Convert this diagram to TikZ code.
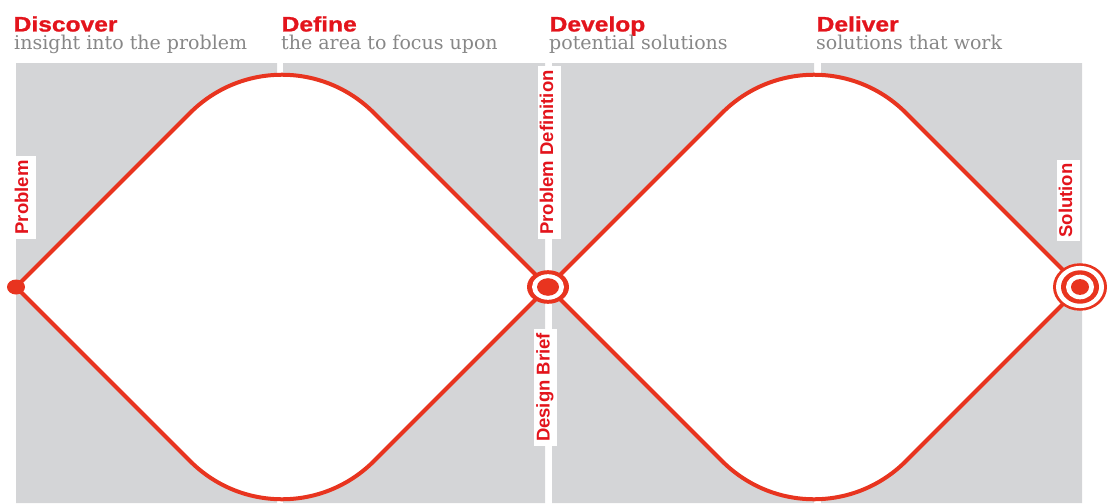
\documentclass[tikz,border=0pt]{standalone}
\usepackage{fontspec}
\usetikzlibrary{calc}
\newfontfamily\headfont[FakeStretch=1.17,FakeBold=1]{Liberation Sans}
\newfontfamily\subfont{DejaVu Serif}
\newfontfamily\tagfont{Liberation Sans}
\definecolor{ddred}{HTML}{E8341F}
\definecolor{ddtext}{HTML}{E3141C}
\definecolor{ddgrey}{HTML}{D4D5D7}
\definecolor{ddsub}{HTML}{878787}
\tikzset{
  phase/.style={anchor=base west,inner sep=0pt,text=ddtext,
    font=\headfont\bfseries\fontsize{21}{21}\selectfont},
  aim/.style={anchor=base west,inner sep=0pt,text=ddsub,
    font=\subfont\fontsize{19}{19}\selectfont},
  tag/.style={rotate=90,anchor=base,fill=white,text=ddtext,
    font=\tagfont\bfseries\fontsize{18.5}{18.5}\selectfont,
    text height=15pt,text depth=7pt,inner xsep=4pt,inner ysep=.5pt},
  redline/.style={draw=ddred,fill=white,line width=4pt}
}
\begin{document}
\begin{tikzpicture}[x=1pt,y=-1pt]
\def\ddiamond#1#2#3#4{% left, top, right, bottom
  \filldraw[redline] (#1) -- ($(#2)!130pt!(#1)$)
    .. controls ($(#2)!58pt!(#1)$) and ($(#2)!58pt!(#3)$) .. ($(#2)!130pt!(#3)$)
    -- (#3) -- ($(#4)!130pt!(#3)$)
    .. controls ($(#4)!58pt!(#3)$) and ($(#4)!58pt!(#1)$) .. ($(#4)!130pt!(#1)$)
    -- cycle;}
\useasboundingbox (0,0) rectangle (1107,503);
% grey panels
\fill[ddgrey] (16,63) rectangle (277,503)
	(283,63) rectangle (545,503)
	(552,63) rectangle (814,503)
	(821,63) rectangle (1082,503);
% corners of the two diamonds
\coordinate (problem) at (16,287);
\coordinate (brief) at (548,287);
\coordinate (solution) at (1080,287);
\coordinate (top1) at (282,21);
\coordinate (bot1) at (282,553);
\coordinate (top2) at (814,21);
\coordinate (bot2) at (814,553);
\ddiamond{problem}{top1}{brief}{bot1}
\ddiamond{brief}{top2}{solution}{bot2}
% headings
\node[phase] (discover) at (13.5,31.5) {Discover};
\node[phase] (define) at (281.5,31.5) {Define};
\node[phase] (develop) at (549.5,31.5) {Develop};
\node[phase] (deliver) at (816.5,31.5) {Deliver};
\node[aim] (discover-aim) at (14,50) {insight into the problem};
\node[aim] (define-aim) at (281,50) {the area to focus upon};
\node[aim] (develop-aim) at (549,50) {potential solutions};
\node[aim] (deliver-aim) at (816,50) {solutions that work};
% labels along the line
\node[tag] (problem-tag) at (28,197.5) {Problem};
\node[tag] (definition-tag) at (553,152.5) {Problem Definition};
\node[tag] (brief-tag) at (549.5,387.5) {Design Brief};
\node[tag] (solution-tag) at (1072,200.5) {Solution};
% dot and targets
\fill[ddred] (problem) ellipse [x radius=9pt,y radius=7.5pt];
\foreach \r/\c in {21/ddred,16/white,11/ddred}
	\fill[\c] (brief) ellipse [x radius=\r pt,y radius=.8*\r pt];
\foreach \r/\c in {27/ddred,24/white,19/ddred,14/white,9/ddred}
	\fill[\c] (solution) ellipse [x radius=\r pt,y radius=.88*\r pt];
\end{tikzpicture}
\end{document}
